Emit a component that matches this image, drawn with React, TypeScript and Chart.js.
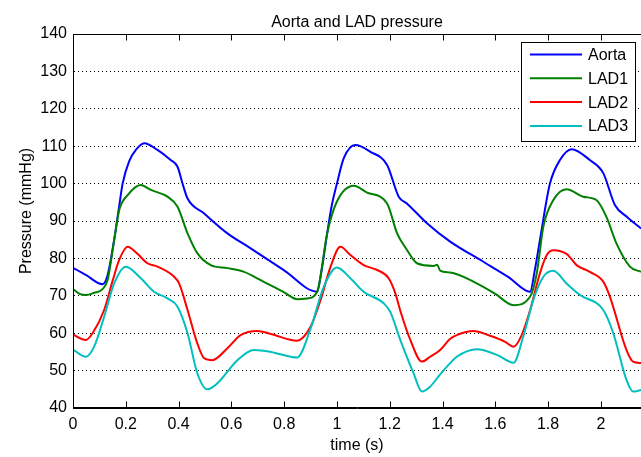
import React, { useEffect, useRef } from "react";
import { Chart, registerables } from "chart.js";

Chart.register(...registerables);

const FONT = "'Liberation Sans', Arial, Helvetica, sans-serif";

const chartTitle = "Aorta and LAD pressure";
const xTitle = "time (s)";
const yTitle = "Pressure (mmHg)";
const seriesNames = ["Aorta", "LAD1", "LAD2", "LAD3"];
const seriesColors = ["#0000ff", "#008000", "#ff0000", "#00bfbf"];

const xMin = 0;
const xMax = 2.152;
const xStep = 0.2;
const xTickValues = [0, 0.2, 0.4, 0.6, 0.8, 1, 1.2, 1.4, 1.6, 1.8, 2];
const yMin = 40;
const yMax = 140;
const yStep = 10;

const aortaT = [0, 0.05, 0.112, 0.131, 0.156, 0.175, 0.188, 0.213, 0.238, 0.27, 0.32, 0.37, 0.396, 0.415, 0.434, 0.497, 0.585, 0.673, 0.8, 0.925, 0.94, 0.963, 0.98, 1.0, 1.026, 1.07, 1.127, 1.19, 1.234, 1.265, 1.341, 1.429, 1.55, 1.65, 1.732, 1.75, 1.769, 1.807, 1.845, 1.889, 1.958, 2.009, 2.053, 2.1, 2.152];
const aortaP = [77.5, 75.5, 73.1, 75.5, 85, 94, 100, 106, 109, 110.8, 109, 106.3, 104.5, 100, 96, 92, 86.7, 82.7, 76.8, 71.1, 76, 86.7, 94, 100, 106.8, 110.3, 108.5, 105, 96.5, 94.7, 89.4, 84.5, 79.3, 75, 71.1, 77, 84.9, 100, 106.3, 109.2, 106.3, 102.8, 94.3, 91, 88];

const lad1T = [0, 0.025, 0.049, 0.08, 0.112, 0.131, 0.156, 0.175, 0.207, 0.257, 0.295, 0.358, 0.396, 0.434, 0.471, 0.522, 0.585, 0.648, 0.711, 0.8, 0.849, 0.887, 0.925, 0.963, 1.0, 1.064, 1.114, 1.19, 1.228, 1.265, 1.303, 1.366, 1.38, 1.391, 1.429, 1.517, 1.6, 1.669, 1.732, 1.757, 1.782, 1.82, 1.87, 1.933, 1.983, 2.021, 2.059, 2.11, 2.152];
const lad1P = [71.8, 70.5, 70.2, 70.8, 71.8, 74.2, 84.9, 92.9, 96.9, 99.6, 98.3, 96.5, 93.8, 86.7, 81.4, 78.2, 77.4, 76.4, 74.2, 70.9, 69.1, 69.3, 71.1, 86.7, 95.2, 99.4, 97.6, 94.7, 86.7, 82.3, 78.7, 78, 78.3, 76.7, 76.2, 73.8, 70.5, 67.5, 69.8, 76, 88.5, 95.6, 98.5, 96.5, 95.6, 91.1, 84, 77.8, 76.4];

const lad2T = [0, 0.049, 0.074, 0.118, 0.15, 0.175, 0.207, 0.24, 0.282, 0.32, 0.383, 0.402, 0.434, 0.471, 0.497, 0.528, 0.585, 0.635, 0.698, 0.75, 0.849, 0.9, 0.938, 0.976, 1.013, 1.051, 1.101, 1.152, 1.196, 1.221, 1.24, 1.278, 1.322, 1.353, 1.391, 1.429, 1.454, 1.517, 1.58, 1.637, 1.669, 1.7, 1.732, 1.769, 1.795, 1.82, 1.87, 1.908, 1.958, 2.009, 2.034, 2.097, 2.122, 2.152];
const lad2P = [59.6, 58.2, 60, 66.2, 74, 79.6, 83.1, 81.5, 78.7, 77.8, 75.1, 73.3, 66.2, 57.3, 53.3, 52.8, 56, 59.5, 60.6, 59.8, 58, 61.7, 68.9, 77.8, 83.1, 80.9, 78.2, 76.9, 74.7, 70.7, 66, 58.2, 52.4, 53.7, 55.5, 58.5, 59.5, 60.6, 59.3, 57.7, 56.4, 59.5, 66.2, 76, 80.9, 82.2, 81.2, 78.2, 76.4, 73.8, 69.8, 55.5, 52.4, 52];

const lad3T = [0, 0.049, 0.08, 0.118, 0.156, 0.2, 0.257, 0.307, 0.358, 0.396, 0.434, 0.471, 0.509, 0.547, 0.623, 0.686, 0.75, 0.849, 0.9, 0.95, 1.0, 1.051, 1.101, 1.177, 1.202, 1.24, 1.29, 1.322, 1.353, 1.391, 1.429, 1.454, 1.53, 1.606, 1.669, 1.706, 1.744, 1.782, 1.82, 1.87, 1.921, 2.009, 2.047, 2.097, 2.122, 2.152];
const lad3P = [55.6, 53.7, 56.4, 64.4, 73.3, 77.8, 74.7, 71.1, 69.3, 67.1, 60, 49.3, 45, 46.6, 52.8, 55.5, 55, 53.5, 61.2, 72.4, 77.6, 74.7, 71.1, 68, 65.7, 58.2, 49.3, 44.4, 45.7, 49, 52, 53.7, 55.7, 54.2, 52.1, 59.1, 68.9, 75.1, 76.7, 73.3, 70.2, 66.2, 60, 47.5, 44.4, 44.8];

const seriesT = [aortaT, lad1T, lad2T, lad3T];
const seriesP = [aortaP, lad1P, lad2P, lad3P];

const framePlugin = {
  id: "matlabFrame",
  afterDraw(chart: any) {
    const { ctx, chartArea: a, scales } = chart;
    const xs = scales.x;
    ctx.save();
    ctx.strokeStyle = "#000";
    ctx.lineWidth = 1;
    ctx.setLineDash([]);
    const L = Math.round(a.left) + 0.5;
    const T = Math.round(a.top) + 0.5;
    const B = Math.round(a.bottom) - 0.5;
    ctx.beginPath();
    ctx.moveTo(L, B);
    ctx.lineTo(L, T);
    ctx.lineTo(a.right, T);
    ctx.moveTo(L, B);
    ctx.lineTo(a.right, B);
    xTickValues.forEach((v) => {
      const px = Math.round(xs.getPixelForValue(v)) + 0.5;
      ctx.moveTo(px, B);
      ctx.lineTo(px, B - 6);
      ctx.moveTo(px, T);
      ctx.lineTo(px, T + 6);
    });
    ctx.stroke();

    // y axis label (MATLAB-like placement)
    ctx.save();
    ctx.translate(27, 211);
    ctx.rotate(-Math.PI / 2);
    ctx.font = `16px ${FONT}`;
    ctx.fillStyle = "#000";
    ctx.textAlign = "center";
    ctx.textBaseline = "middle";
    ctx.fillText(yTitle, 0, 0);
    ctx.restore();

    // legend box
    const bx = 521.5, by = 42.5, bw = 114, bh = 99;
    ctx.fillStyle = "#fff";
    ctx.fillRect(bx, by, bw, bh);
    ctx.strokeStyle = "#000";
    ctx.lineWidth = 1;
    ctx.strokeRect(bx, by, bw, bh);
    ctx.font = `16px ${FONT}`;
    ctx.textBaseline = "middle";
    ctx.textAlign = "left";
    seriesNames.forEach((name, i) => {
      const ry = 54.5 + i * 23.8;
      ctx.strokeStyle = seriesColors[i];
      ctx.lineWidth = 2;
      ctx.beginPath();
      ctx.moveTo(530, ry);
      ctx.lineTo(582, ry);
      ctx.stroke();
      ctx.fillStyle = "#000";
      ctx.fillText(name, 588, ry + 1);
    });
    ctx.restore();
  },
};

export default function App() {
  const ref = useRef<HTMLCanvasElement | null>(null);

  useEffect(() => {
    if (!ref.current) return;
    Chart.defaults.color = "#000";
    Chart.defaults.font.family = FONT;
    const chart = new Chart(ref.current, {
      type: "line",
      data: {
        datasets: seriesNames.map((name, i) => ({
          label: name,
          data: seriesT[i].map((t, j) => ({ x: t, y: seriesP[i][j] })),
          borderColor: seriesColors[i],
          backgroundColor: seriesColors[i],
          borderWidth: 2,
          pointRadius: 0,
          cubicInterpolationMode: "monotone" as const,
          fill: false,
          order: seriesNames.length - i,
        })),
      },
      options: {
        animation: false,
        responsive: false,
        devicePixelRatio: 1,
        layout: { padding: 0 },
        plugins: {
          legend: { display: false },
          tooltip: { enabled: false },
          title: {
            display: true,
            fullSize: false,
            text: chartTitle,
            color: "#000",
            font: { size: 16, weight: "normal", family: FONT },
            padding: { top: 12.5, bottom: 2.3 },
          },
        },
        scales: {
          x: {
            type: "linear",
            min: xMin,
            max: xMax,
            afterFit: (s: any) => {
              s.height = 49;
            },
            grid: { display: false, drawTicks: false },
            border: { display: true, color: "#000", width: 1 },
            ticks: {
              stepSize: xStep,
              includeBounds: false,
              autoSkip: false,
              maxRotation: 0,
              padding: 7,
              color: "#000",
              font: { size: 16, family: FONT },
              callback: (v: any) => String(Number(Number(v).toFixed(1))),
            },
            title: {
              display: true,
              text: xTitle,
              color: "#000",
              font: { size: 16, family: FONT },
              padding: { top: 0, bottom: 2 },
            },
          },
          y: {
            type: "linear",
            min: yMin,
            max: yMax,
            afterFit: (s: any) => {
              s.width = 73;
            },
            grid: { color: "#000", lineWidth: 1, drawTicks: false },
            border: { display: true, color: "#000", width: 1, dash: [1, 3] },
            ticks: {
              stepSize: yStep,
              padding: 6,
              color: "#000",
              font: { size: 16, family: FONT },
            },
            title: { display: false },
          },
        },
      },
      plugins: [framePlugin],
    });
    return () => chart.destroy();
  }, []);

  return (
    <div style={{ position: "fixed", left: 0, top: 0, width: 641, height: 457, background: "#fff" }}>
      <canvas ref={ref} width={641} height={457} style={{ display: "block", width: 641, height: 457 }} />
    </div>
  );
}
